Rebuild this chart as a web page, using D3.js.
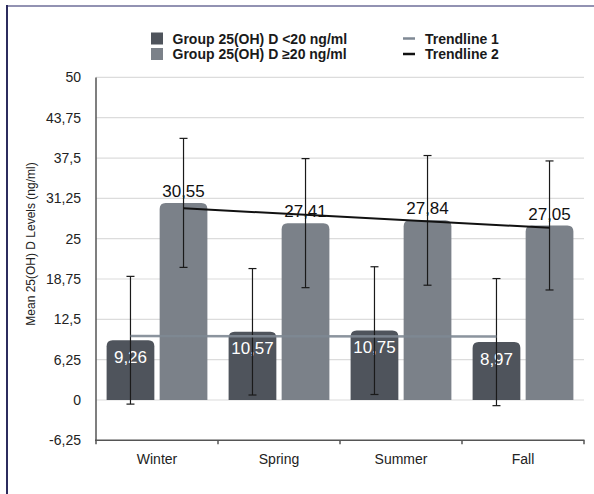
<!DOCTYPE html>
<html>
<head>
<meta charset="utf-8">
<script src="https://cdn.jsdelivr.net/npm/d3@7"></script>
<style>
  html, body { margin: 0; padding: 0; background: #fff; }
  svg text { font-family: "Liberation Sans", Arial, Helvetica, sans-serif; }
</style>
</head>
<body>
<div id="chart"></div>
<script>
// values
const seasons = ["Winter", "Spring", "Summer", "Fall"];
const lowMeans = [9.26, 10.57, 10.75, 8.97];
const lowSd = [9.9, 9.8, 9.9, 9.85];
const highMeans = [30.55, 27.41, 27.84, 27.05];
const highSd = [10.0, 10.0, 10.05, 10.0];
const trend1 = [9.9, 9.85];   // Winter -> Fall, low group
const trend2 = [29.7, 26.7];  // Winter -> Fall, high group
const yTicks = [-6.25, 0, 6.25, 12.5, 18.75, 25, 31.25, 37.5, 43.75, 50];
const legendItems = ["Group 25(OH) D <20 ng/ml", "Group 25(OH) D \u226520 ng/ml"];
const trendNames = ["Trendline 1", "Trendline 2"];

const W = 594, H = 494;
const margin = { top: 77.4, right: 10, bottom: 53.7, left: 96 };
const darkCol = "#4f545c", lightCol = "#7b8189";
const trend1Col = "#7f8994";

const svg = d3.select("#chart").append("svg")
  .attr("width", W)
  .attr("height", H);

const x = d3.scaleBand()
  .domain(seasons)
  .range([margin.left, W - margin.right]);

const xg = d3.scaleBand()
  .domain(["low", "high"])
  .range([0, x.bandwidth()])
  .paddingInner(0.1)
  .paddingOuter(0.2);

const y = d3.scaleLinear()
  .domain([-6.25, 50])
  .range([H - margin.bottom, margin.top]);

const fmt = v => String(v).replace(".", ",");

// frame
svg.append("line")
  .attr("x1", 7).attr("x2", W).attr("y1", 6).attr("y2", 6)
  .attr("stroke", "#9292b2").attr("stroke-width", 2);
svg.append("line")
  .attr("x1", 7).attr("x2", 7).attr("y1", 5).attr("y2", H)
  .attr("stroke", "#2c2c5e").attr("stroke-width", 2);

// gridlines
svg.append("g").selectAll("line")
  .data(yTicks.filter(t => t > -6.25))
  .join("line")
  .attr("x1", margin.left).attr("x2", W - margin.right)
  .attr("y1", d => y(d)).attr("y2", d => y(d))
  .attr("stroke", "#dcdcdc").attr("stroke-width", 1.2);

// y tick labels
svg.append("g").selectAll("text")
  .data(yTicks)
  .join("text")
  .attr("x", 81)
  .attr("y", d => y(d))
  .attr("dy", "0.36em")
  .attr("text-anchor", "end")
  .attr("font-size", 14)
  .attr("fill", "#222")
  .text(fmt);

// axis title
svg.append("text")
  .attr("transform", "translate(35," + 244 + ") rotate(-90)")
  .attr("text-anchor", "middle")
  .attr("font-size", 12)
  .attr("fill", "#222")
  .text("Mean 25(OH) D Levels (ng/ml)");

// bars with rounded tops
function barPath(x0, w, v) {
  const r = 6, yt = y(v), yb = y(0);
  return "M" + x0 + "," + yb +
    "V" + (yt + r) +
    "Q" + x0 + "," + yt + " " + (x0 + r) + "," + yt +
    "H" + (x0 + w - r) +
    "Q" + (x0 + w) + "," + yt + " " + (x0 + w) + "," + (yt + r) +
    "V" + yb + "Z";
}

const rows = seasons.map((s, i) => ({
  season: s,
  low: lowMeans[i], lowSd: lowSd[i],
  high: highMeans[i], highSd: highSd[i]
}));

const groups = svg.append("g").selectAll("g")
  .data(rows)
  .join("g")
  .attr("transform", d => "translate(" + x(d.season) + ",0)");

groups.append("path")
  .attr("d", d => barPath(xg("low"), xg.bandwidth(), d.low))
  .attr("fill", darkCol);
groups.append("path")
  .attr("d", d => barPath(xg("high"), xg.bandwidth(), d.high))
  .attr("fill", lightCol);

// axes lines
svg.append("line")
  .attr("x1", margin.left).attr("x2", margin.left)
  .attr("y1", y(50)).attr("y2", y(-6.25))
  .attr("stroke", "#555").attr("stroke-width", 1.5);
svg.append("line")
  .attr("x1", margin.left - 1).attr("x2", W - margin.right + 0.5)
  .attr("y1", y(-6.25)).attr("y2", y(-6.25))
  .attr("stroke", "#555").attr("stroke-width", 1.5);
svg.append("g").selectAll("line")
  .data(seasons.concat(["end"]))
  .join("line")
  .attr("x1", d => d === "end" ? W - margin.right : x(d))
  .attr("x2", d => d === "end" ? W - margin.right : x(d))
  .attr("y1", y(-6.25)).attr("y2", y(-6.25) + 4)
  .attr("stroke", "#555").attr("stroke-width", 1.5);

// category labels
svg.append("g").selectAll("text")
  .data(seasons)
  .join("text")
  .attr("x", d => x(d) + x.bandwidth() / 2)
  .attr("y", 459)
  .attr("dy", "0.36em")
  .attr("text-anchor", "middle")
  .attr("font-size", 14)
  .attr("fill", "#222")
  .text(d => d);

// trendlines
const first = seasons[0], last = seasons[seasons.length - 1];
const cLow = s => x(s) + xg("low") + xg.bandwidth() / 2;
const cHigh = s => x(s) + xg("high") + xg.bandwidth() / 2;

svg.append("line")
  .attr("x1", cLow(first)).attr("x2", cLow(last))
  .attr("y1", y(trend1[0])).attr("y2", y(trend1[1]))
  .attr("stroke", trend1Col).attr("stroke-width", 2.5).attr("opacity", 0.9);
svg.append("line")
  .attr("x1", cHigh(first)).attr("x2", cHigh(last))
  .attr("y1", y(trend2[0])).attr("y2", y(trend2[1]))
  .attr("stroke", "#111").attr("stroke-width", 2);

// value labels
groups.append("text")
  .attr("x", xg("low") + xg.bandwidth() / 2)
  .attr("y", d => y(d.low) + 16.5)
  .attr("dy", "0.36em")
  .attr("text-anchor", "middle")
  .attr("font-size", 17)
  .attr("fill", "#fff")
  .text(d => fmt(d.low));
groups.append("text")
  .attr("x", xg("high") + xg.bandwidth() / 2)
  .attr("y", d => y(d.high) - 12)
  .attr("dy", "0.36em")
  .attr("text-anchor", "middle")
  .attr("font-size", 17)
  .attr("fill", "#111")
  .text(d => fmt(d.high));

// error bars
function errorBar(g, key, sdKey) {
  const cx = xg(key) + xg.bandwidth() / 2;
  const eb = g.append("g")
    .attr("stroke", "#1a1a1a")
    .attr("stroke-width", 1.2);
  eb.append("line")
    .attr("x1", cx).attr("x2", cx)
    .attr("y1", d => y(d[key] + d[sdKey]))
    .attr("y2", d => y(d[key] - d[sdKey]));
  eb.append("line")
    .attr("x1", cx - 4).attr("x2", cx + 4)
    .attr("y1", d => y(d[key] + d[sdKey]))
    .attr("y2", d => y(d[key] + d[sdKey]));
  eb.append("line")
    .attr("x1", cx - 4).attr("x2", cx + 4)
    .attr("y1", d => y(d[key] - d[sdKey]))
    .attr("y2", d => y(d[key] - d[sdKey]));
}
errorBar(groups, "low", "lowSd");
errorBar(groups, "high", "highSd");

// legend
const legend = svg.append("g");
legend.selectAll("rect")
  .data(legendItems)
  .join("rect")
  .attr("x", 151)
  .attr("y", (d, i) => 32.5 + i * 15.5)
  .attr("width", 12).attr("height", 12)
  .attr("fill", (d, i) => i === 0 ? darkCol : lightCol);
legend.selectAll("text.grp")
  .data(legendItems)
  .join("text")
  .attr("class", "grp")
  .attr("x", 172.5)
  .attr("y", (d, i) => 38.5 + i * 15.5)
  .attr("dy", "0.36em")
  .attr("font-size", 14)
  .attr("font-weight", "bold")
  .attr("fill", "#1a1a1a")
  .text(d => d);
legend.selectAll("line")
  .data(trendNames)
  .join("line")
  .attr("x1", 403).attr("x2", 415)
  .attr("y1", (d, i) => 38.5 + i * 15.5)
  .attr("y2", (d, i) => 38.5 + i * 15.5)
  .attr("stroke", (d, i) => i === 0 ? trend1Col : "#111")
  .attr("stroke-width", 2.5);
legend.selectAll("text.tr")
  .data(trendNames)
  .join("text")
  .attr("class", "tr")
  .attr("x", 425)
  .attr("y", (d, i) => 38.5 + i * 15.5)
  .attr("dy", "0.36em")
  .attr("font-size", 14)
  .attr("font-weight", "bold")
  .attr("fill", "#1a1a1a")
  .text(d => d);
</script>
</body>
</html>
